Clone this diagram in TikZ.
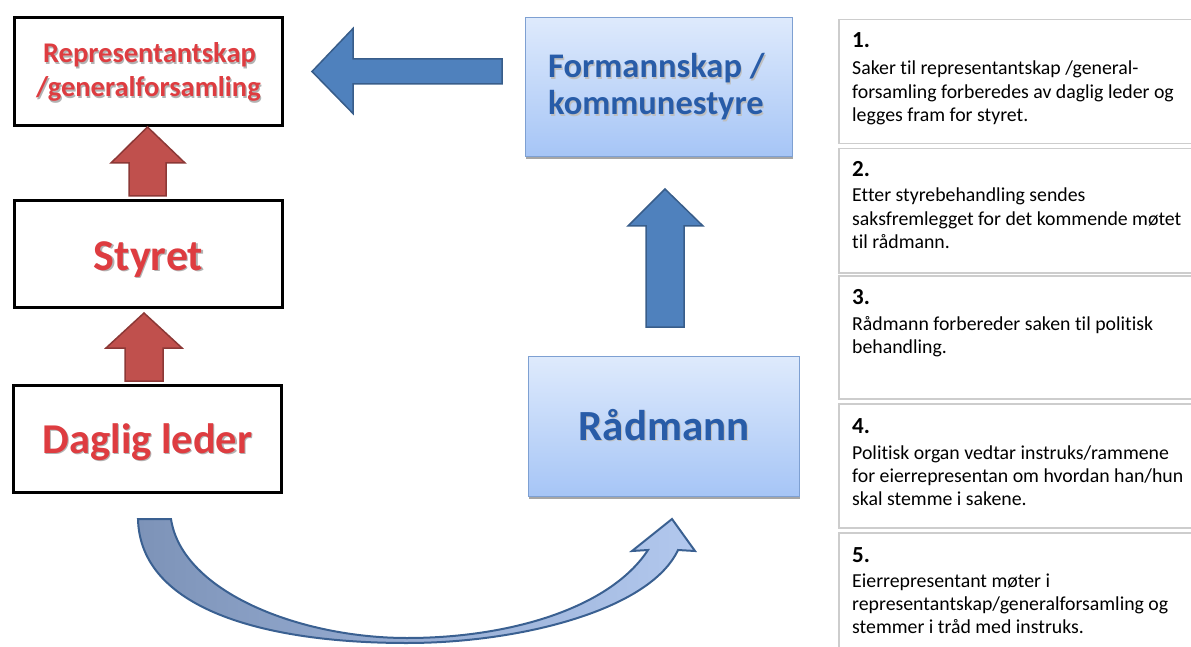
\documentclass[tikz,border=0pt]{standalone}
\usepackage{fontspec}
\setmainfont{Carlito}[Ligatures=NoCommon]
\usetikzlibrary{calc,shadows}
\definecolor{redtxt}{RGB}{222,60,64}
\definecolor{redfill}{RGB}{192,80,77}
\definecolor{redline}{RGB}{140,56,54}
\definecolor{bluefill}{RGB}{79,129,189}
\definecolor{blueline}{RGB}{56,93,138}
\definecolor{bluetxt}{RGB}{40,92,168}
\definecolor{boxtop}{RGB}{222,234,252}
\definecolor{boxbot}{RGB}{166,197,246}
\definecolor{boxline}{RGB}{126,160,210}
\definecolor{panelline}{RGB}{205,205,205}
\definecolor{curvline}{RGB}{58,96,145}
\definecolor{curvleft}{RGB}{125,147,184}
\definecolor{curvmid}{RGB}{188,198,218}
\definecolor{curvright}{RGB}{178,200,238}
\newcommand{\shtext}[2]{\makebox[0pt][l]{\hspace{1.2pt}\raisebox{-1.8pt}{\color{#2}#1}}#1}
\begin{document}
\begin{tikzpicture}[x=1pt,y=-1pt,
  leftbox/.style={draw=black, line width=3pt, minimum width=268pt, inner sep=0pt},
  redlbl/.style={anchor=base, inner sep=0pt, text=redtxt},
  bluelbl/.style={anchor=base, inner sep=0pt, text=bluetxt},
  bluebox/.style={draw=boxline, line width=1pt, top color=boxtop, bottom color=boxbot, inner sep=0pt,
    drop shadow={shadow xshift=0.5pt, shadow yshift=-2.5pt, opacity=0.35, fill=black}},
  redblk/.style={fill=redfill, draw=redline, line width=1.5pt},
  blueblk/.style={fill=bluefill, draw=blueline, line width=1.5pt},
  panel/.style={draw=panelline, line width=1.5pt, fill=white, minimum width=370pt, anchor=north west, inner sep=0pt},
  numtxt/.style={anchor=base west, inner sep=0pt, font=\fontsize{23}{28}\selectfont\bfseries},
  bodytxt/.style={anchor=base west, inner sep=0pt, font=\fontsize{19.8}{23.3}\selectfont},
]
\clip (0,0) rectangle (1191,647);

% left boxes
\node[leftbox, minimum height=108pt] (b1) at (148.5,71.5) {};
\node[leftbox, minimum height=107pt] (b2) at (148.5,254) {};
\node[leftbox, minimum height=107pt] (b3) at (147.5,439) {};
\node[redlbl, font=\fontsize{28.5}{33}\selectfont\bfseries] (b1ta) at ($(b1.center)+(1,-8.5)$) {\shtext{Representantskap}{black!30}};
\node[redlbl, font=\fontsize{28.5}{33}\selectfont\bfseries] (b1tb) at ($(b1.center)+(0,25.5)$) {\shtext{/generalforsamling}{black!30}};
\node[redlbl, font=\fontsize{44}{50}\selectfont\bfseries] (b2t) at ($(b2.center)+(0,16)$) {\shtext{Styret}{black!30}};
\node[redlbl, font=\fontsize{42.5}{50}\selectfont\bfseries] (b3t) at ($(b3.center)+(0,14)$) {\shtext{Daglig leder}{black!30}};

% blue boxes
\node[bluebox, minimum width=267pt, minimum height=139pt] (fk) at (659,87) {};
\node[bluebox, minimum width=271pt, minimum height=140pt] (rd) at (664,426.5) {};
\node[bluelbl, anchor=base west, font=\fontsize{34.5}{37}\selectfont\bfseries] (fkta) at ($(fk.west)+(23,-9)$) {\shtext{Formannskap /}{black!25}};
\node[bluelbl, anchor=base west, font=\fontsize{34.5}{37}\selectfont\bfseries] (fktb) at ($(fk.west)+(23,28)$) {\shtext{kommunestyre}{black!25}};
\node[bluelbl, font=\fontsize{43}{48}\selectfont\bfseries] (rdt) at ($(rd.center)+(0,13.5)$) {\shtext{Rådmann}{black!25}};

% red block arrows (upwards)
\draw[redblk] ($(b2.north)+(-19.5,-3)$) -- ($(b1.south)+(-19.5,36)$) -- ($(b1.south)+(-37.5,36)$)
  -- ($(b1.south)+(-1,0)$) -- ($(b1.south)+(36.5,36)$) -- ($(b1.south)+(17.5,36)$)
  -- ($(b2.north)+(17.5,-3)$) -- cycle;
\draw[redblk] ($(b3.north)+(-22.5,-3)$) -- ($(b2.south)+(-23.5,39)$) -- ($(b2.south)+(-42.5,39)$)
  -- ($(b2.south)+(-4.5,4)$) -- ($(b2.south)+(33.5,39)$) -- ($(b2.south)+(14.5,39)$)
  -- ($(b3.north)+(15.5,-3)$) -- cycle;

% blue block arrow (leftwards)
\draw[blueblk] ($(fk.west |- b1.east)+(-23,-12.5)$) -- ($(b1.east)+(69,-12.5)$) -- ($(b1.east)+(69,-43)$)
  -- ($(b1.east)+(28,0)$) -- ($(b1.east)+(69,42)$) -- ($(b1.east)+(69,12.5)$)
  -- ($(fk.west |- b1.east)+(-23,12.5)$) -- cycle;

% blue block arrow (upwards)
\draw[blueblk] ($(rd.north)+(-18,-29)$) -- ($(rd.north |- fk.south)+(-18,69)$) -- ($(rd.north |- fk.south)+(-36,69)$)
  -- ($(rd.north |- fk.south)+(1,32)$) -- ($(rd.north |- fk.south)+(39,69)$) -- ($(rd.north |- fk.south)+(20,69)$)
  -- ($(rd.north)+(20,-29)$) -- cycle;

% curved arrow from Daglig leder to Radmann
\coordinate (c0) at (138,519);
\coordinate (c1) at (171,519);
\coordinate (cb) at (407,643);
\coordinate (ci) at (407,638);
\coordinate (n1) at (678,550);
\coordinate (n2) at (648,550);
\coordinate (h1) at (695,551);
\coordinate (h2) at (632,551);
\coordinate (tip) at (672,519);
\draw[curvline, line width=2pt, line join=miter, left color=curvleft, middle color=curvmid, right color=curvright]
  (c0) .. controls (140,608) and (262,643) .. (cb)
  .. controls (520,643) and (650,610) .. (n1) -- (h1) -- (tip) -- (h2) -- (n2)
  .. controls (610,608) and (510,638) .. (ci)
  .. controls (300,638) and (182,592) .. (c1) -- cycle;

% right panels
\node[panel, minimum height=124pt] (p1) at (838,19) {};
\node[panel, minimum height=124pt] (p2) at (838,148) {};
\node[panel, minimum height=123pt] (p3) at (838,275) {};
\node[panel, minimum height=124pt] (p4) at (838,403) {};
\node[panel, minimum height=140pt] (p5) at (838,532) {};

\node[numtxt] (n1t) at ($(p1.north west)+(14,29)$) {1.};
\node[bodytxt] (p1t) at ($(p1.north west)+(14,56)$) {\vtop{\hbox{Saker til representantskap  /general-}\hbox{forsamling forberedes av daglig leder og}\hbox{legges fram for styret.}}};
\node[numtxt] (n2t) at ($(p2.north west)+(14,29)$) {2.};
\node[bodytxt] (p2t) at ($(p2.north west)+(14,54)$) {\vtop{\hbox{Etter styrebehandling  sendes}\hbox{saksfremlegget  for det kommende  møtet}\hbox{til rådmann.}}};
\node[numtxt] (n3t) at ($(p3.north west)+(14,29)$) {3.};
\node[bodytxt] (p3t) at ($(p3.north west)+(14,55)$) {\vtop{\hbox{Rådmann  forbereder saken til politisk}\hbox{behandling.}}};
\node[numtxt] (n4t) at ($(p4.north west)+(14,30)$) {4.};
\node[bodytxt] (p4t) at ($(p4.north west)+(14,56)$) {\vtop{\hbox{Politisk  organ vedtar instruks/rammene}\hbox{for eierrepresentan  om hvordan  han/hun}\hbox{skal stemme  i sakene.}}};
\node[numtxt] (n5t) at ($(p5.north west)+(14,30)$) {5.};
\node[bodytxt] (p5t) at ($(p5.north west)+(14,55)$) {\vtop{\hbox{Eierrepresentant  møter i}\hbox{representantskap/generalforsamling  og}\hbox{stemmer  i tråd med instruks.}}};
\end{tikzpicture}
\end{document}
